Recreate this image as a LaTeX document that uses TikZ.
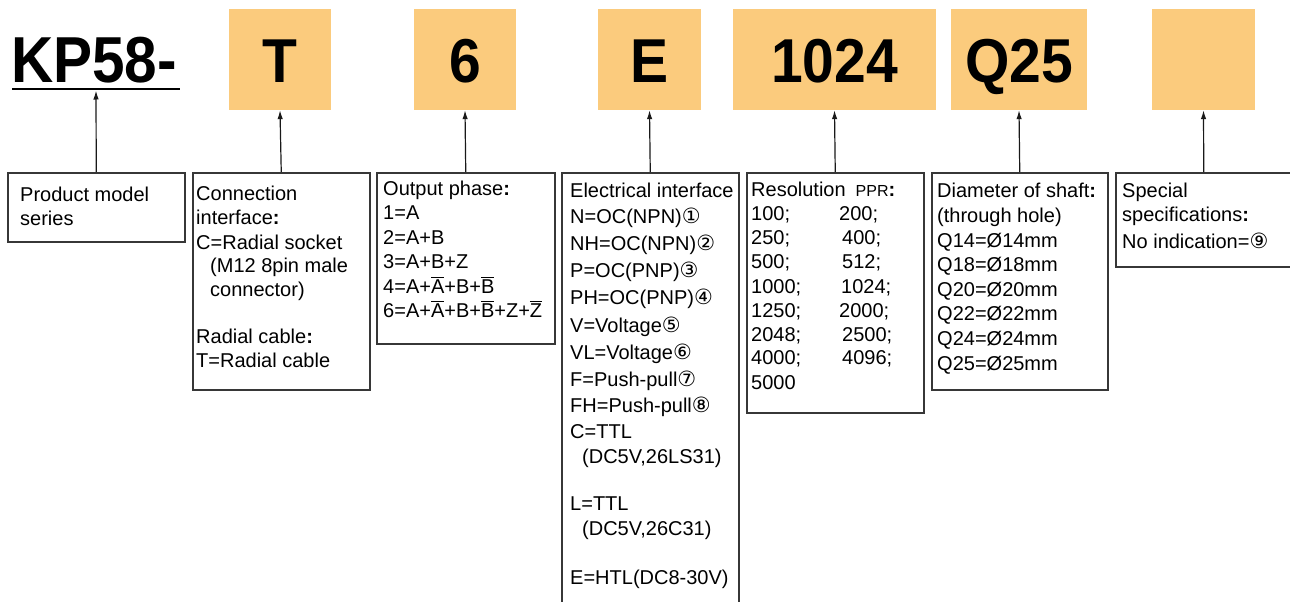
\documentclass[tikz,border=0pt]{standalone}
\usepackage{fontspec}
\setmainfont{Liberation Sans}
\newfontfamily\circfont{DejaVu Sans}
\usetikzlibrary{arrows.meta}
\definecolor{boxorange}{RGB}{251,203,125}
\definecolor{framegray}{RGB}{55,55,55}
\newcommand{\ovl}[1]{\leavevmode\vbox{\hrule height 1.1pt\kern 1.4pt\hbox{#1}}}
\newcommand{\cn}[1]{{\circfont\fontsize{21}{24}\selectfont #1}}
\newcommand{\bcolon}{\textbf{:}}
\begin{document}
\begin{tikzpicture}[x=1pt,y=-1pt,
  code/.style={fill=boxorange, draw=none, inner sep=0pt, text height=45pt, text depth=0pt,
    minimum height=101pt, font=\fontsize{62}{62}\selectfont\bfseries},
  infobox/.style={draw=framegray, line width=1.5pt, anchor=north west, inner sep=0pt},
  txt/.style={anchor=base west, inner sep=0pt, font=\fontsize{20}{24}\selectfont},
  arr/.style={draw=black!90, line width=1.2pt, -{Latex[length=9pt,width=5.5pt]}},
]
\useasboundingbox (0,0) rectangle (1290,602);
\clip (0,0) rectangle (1290,602);

% model prefix
\node[anchor=base west, inner sep=0pt, font=\fontsize{65}{65}\selectfont\bfseries] (kp) at (11,82) {\scalebox{0.9}[1]{KP58-}};
\draw[line width=2.6pt] (12,89) -- (180,89);
\coordinate (kpu) at (96,90.5);

% code boxes
\node[code, minimum width=102pt] (cT) at (280,59.5) {\scalebox{0.92}[1]{T}};
\node[code, minimum width=102pt] (c6) at (465,59.5) {\scalebox{0.92}[1]{6}};
\node[code, minimum width=103pt] (cE) at (649.5,59.5) {\scalebox{0.92}[1]{E}};
\node[code, minimum width=203pt] (cR) at (834.5,59.5) {\scalebox{0.92}[1]{1024}};
\node[code, minimum width=136pt] (cQ) at (1019,59.5) {\scalebox{0.92}[1]{Q25}};
\node[code, minimum width=103pt] (cS) at (1203.5,59.5) {};

% description boxes
\node[infobox, minimum width=177pt, minimum height=69pt] (bprod) at (7,172) {};
\node[infobox, minimum width=177pt, minimum height=217pt] (bconn) at (192,172) {};
\node[infobox, minimum width=178pt, minimum height=171pt] (bout) at (376,172) {};
\node[infobox, minimum width=177pt, minimum height=450pt] (belec) at (561,172) {};
\node[infobox, minimum width=177pt, minimum height=240pt] (bres) at (746,172) {};
\node[infobox, minimum width=176pt, minimum height=217pt] (bdia) at (931,172) {};
\node[infobox, minimum width=176pt, minimum height=94pt] (bspec) at (1115,172) {};

% connectors
\draw[arr] (bprod.north) -- (kpu);
\draw[arr] (bconn.north) -- (cT.south);
\draw[arr] (bout.north) -- (c6.south);
\draw[arr] (belec.north) -- (cE.south);
\draw[arr] (bres.north) -- (cR.south);
\draw[arr] (bdia.north) -- (cQ.south);
\draw[arr] (bspec.north) -- (cS.south);

% texts
\foreach \yy/\lbl [count=\i] in {194/Product model, 218/series}
  \node[txt] (prod-\i) at (20,\yy+7) {\lbl};

\foreach \yy/\lbl [count=\i] in {193/Connection, 217/interface\bcolon, 242/C=Radial socket,
   265/\hspace*{14pt}(M12 8pin male, 289/\hspace*{14pt}connector), 336/Radial cable\bcolon, 360/T=Radial cable}
  \node[txt] (conn-\i) at (196,\yy+7) {\lbl};

\foreach \yy/\lbl [count=\i] in {188/Output phase\bcolon, 212/1=A, 237/2=A+B, 261/3=A+B+Z,
   286/{4=A+\ovl{A}+B+\ovl{B}}, 310/{6=A+\ovl{A}+B+\ovl{B}+Z+\ovl{Z}}}
  \node[txt] (out-\i) at (383,\yy+7) {\lbl};

\foreach \yy/\lbl [count=\i] in {190/Electrical interface, 216/N=OC(NPN)\cn{①}, 243/NH=OC(NPN)\cn{②},
   270/P=OC(PNP)\cn{③}, 297/PH=OC(PNP)\cn{④}, 325/V=Voltage\cn{⑤}, 352/VL=Voltage\cn{⑥},
   379/F=Push-pull\cn{⑦}, 405/FH=Push-pull\cn{⑧}, 431/C=TTL, 456/{\hspace*{12pt}(DC5V,26LS31)},
   503/L=TTL, 528/{\hspace*{12pt}(DC5V,26C31)}, 577/E=HTL(DC8-30V)}
  \node[txt] (elec-\i) at (570,\yy+7) {\lbl};

\node[txt] (res-0) at (751,196) {Resolution\hspace{10pt}{\fontsize{16}{20}\selectfont PPR}\bcolon};
\foreach \yy/\lbl [count=\i] in {213/100;, 237/250;, 261/500;, 286/1000;, 310/1250;, 334/2048;, 357/4000;, 382/5000}
  \node[txt] (resa-\i) at (751,\yy+7) {\lbl};
\foreach \yy/\xx/\lbl [count=\i] in {213/839/200;, 237/842/400;, 261/842/512;, 286/841/1024;,
   310/839/2000;, 334/842/2500;, 357/842/4096;}
  \node[txt] (resb-\i) at (\xx,\yy+7) {\lbl};

\foreach \yy/\lbl [count=\i] in {190/Diameter of shaft\bcolon, 215/(through hole), 240/Q14=Ø14mm,
   264/Q18=Ø18mm, 289/Q20=Ø20mm, 313/Q22=Ø22mm, 338/Q24=Ø24mm, 363/Q25=Ø25mm}
  \node[txt] (dia-\i) at (937,\yy+7) {\lbl};

\foreach \yy/\lbl [count=\i] in {190/Special, 214/specifications\bcolon, 241/No indication=\cn{⑨}}
  \node[txt] (spec-\i) at (1122,\yy+7) {\lbl};
\end{tikzpicture}
\end{document}
